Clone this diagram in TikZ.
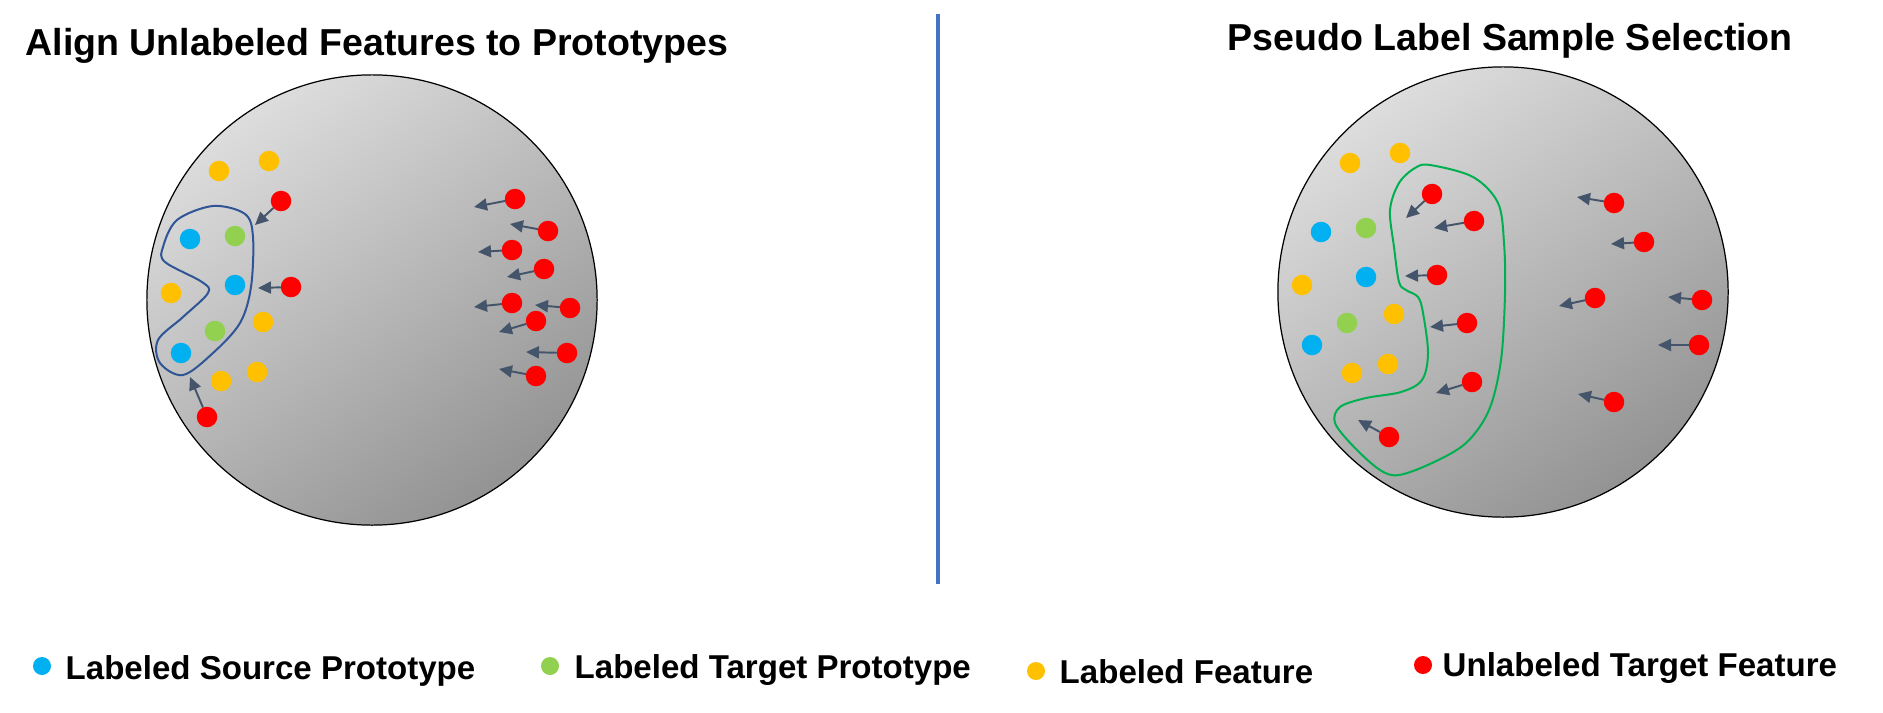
\documentclass[tikz,border=0pt]{standalone}
\usepackage{fontspec}
\setmainfont{Liberation Sans}
\usetikzlibrary{arrows.meta}
\definecolor{srcblue}{HTML}{00B0F0}
\definecolor{tgtgreen}{HTML}{92D050}
\definecolor{featyellow}{HTML}{FFC000}
\definecolor{unlred}{HTML}{FF0000}
\definecolor{pullgray}{HTML}{44546A}
\definecolor{alignblue}{HTML}{2F5597}
\definecolor{selgreen}{HTML}{00B050}
\definecolor{divblue}{HTML}{4472C4}
\definecolor{spacelight}{HTML}{DDDDDD}
\definecolor{spacedark}{HTML}{939393}
\tikzset{
    feat/.style={circle,fill,inner sep=0pt,outer sep=0pt,minimum size=0.205cm},
    legfeat/.style={feat,minimum size=0.18cm},
    featspace/.style={circle,draw=black,line width=0.35pt,inner sep=0pt,minimum size=4.5cm,
        top color=spacelight,bottom color=spacedark,shading angle=35},
    pull/.style={draw=pullgray,line width=0.55pt,-{Triangle[length=0.13cm,width=0.12cm]}},
    titletext/.style={anchor=base west,inner sep=0pt,font=\fontsize{10.67}{12}\selectfont\bfseries},
    legtext/.style={anchor=base west,inner sep=0pt,font=\fontsize{9.4}{11}\selectfont\bfseries}
}

\begin{document}
\begin{tikzpicture}[x=0.01cm,y=-0.01cm]
    \useasboundingbox (0,0) rectangle (1883,712);

    % titles and divider
    \node[titletext] (ltitle) at (25,55) {Align Unlabeled Features to Prototypes};
    \node[titletext] (rtitle) at (1227,50) {Pseudo Label Sample Selection};
    \coordinate (dtop) at (938,14);
    \coordinate (dbot) at (938,584);
    \draw[divblue,line width=1.14pt] (dtop) -- (dbot);

    % feature spaces
    \node[featspace] (lspace) at (372,300) {};
    \node[featspace] (rspace) at (1503,292) {};

    % left: align unlabeled features to prototypes
    \draw[alignblue,line width=0.57pt] plot[smooth cycle,tension=0.55] coordinates {
        (213,206) (245,214) (253,237) (251,287) (240,323) (213,353) (183,375) (160,363)
        (158,340) (183,317) (208,293) (202,282) (165,262) (163,247) (177,220)};
    \foreach \x/\y [count=\i] in {219/171,269/161,171/293,263/322,221/381,257/372}
        \node[feat,fill=featyellow] (ly\i) at (\x,\y) {};
    \foreach \x/\y [count=\i] in {190/239,235/285,181/353}
        \node[feat,fill=srcblue] (lb\i) at (\x,\y) {};
    \foreach \x/\y [count=\i] in {235/236,215/331}
        \node[feat,fill=tgtgreen] (lg\i) at (\x,\y) {};
    \foreach \x/\y/\tx/\ty [count=\i] in {281/201/255/225,291/287/258/288,207/417/190/377,
        515/199/474/207,548/231/510/224,512/250/478/252,544/269/507/277,512/303/474/307,
        570/308/535/305,536/321/499/332,567/353/526/352,536/376/499/369}
    {
        \node[feat,fill=unlred] (lr\i) at (\x,\y) {};
        \coordinate (lt\i) at (\tx,\ty);
        \draw[pull] (lr\i) -- (lt\i);
    }

    % right: pseudo label sample selection
    \draw[selgreen,line width=0.57pt] plot[smooth cycle,tension=0.55] coordinates {
        (1430,165) (1473,177) (1498,203) (1504,243) (1505,293) (1501,360) (1489,410)
        (1466,443) (1432,463) (1399,475) (1380,470) (1354,447) (1335,423) (1340,407)
        (1366,398) (1401,392) (1422,380) (1428,353) (1423,313) (1418,297) (1406,290)
        (1399,282) (1394,247) (1390,210) (1399,183) (1415,168)};
    \foreach \x/\y [count=\i] in {1350/163,1400/153,1302/285,1394/314,1352/373,1388/364}
        \node[feat,fill=featyellow] (ry\i) at (\x,\y) {};
    \foreach \x/\y [count=\i] in {1321/232,1366/277,1312/345}
        \node[feat,fill=srcblue] (rb\i) at (\x,\y) {};
    \foreach \x/\y [count=\i] in {1366/228,1347/323}
        \node[feat,fill=tgtgreen] (rg\i) at (\x,\y) {};
    \foreach \x/\y/\tx/\ty [count=\i] in {1432/194/1406/218,1474/221/1434/228,
        1437/275/1405/276,1467/323/1430/327,1472/382/1436/393,1389/437/1358/420,
        1614/203/1577/197,1644/242/1611/244,1595/298/1559/306,1702/300/1668/297,
        1699/345/1658/345,1614/402/1578/394}
    {
        \node[feat,fill=unlred] (rr\i) at (\x,\y) {};
        \coordinate (rt\i) at (\tx,\ty);
        \draw[pull] (rr\i) -- (rt\i);
    }

    % legend
    \node[legfeat,fill=srcblue] (keysrc) at (42,666) {};
    \node[legtext] (keysrctext) at (65,679) {Labeled Source Prototype};
    \node[legfeat,fill=tgtgreen] (keytgt) at (550,666) {};
    \node[legtext] (keytgttext) at (574,678) {Labeled Target Prototype};
    \node[legfeat,fill=featyellow] (keyfeat) at (1036,671) {};
    \node[legtext] (keyfeattext) at (1059,683) {Labeled Feature};
    \node[legfeat,fill=unlred] (keyunl) at (1423,665) {};
    \node[legtext] (keyunltext) at (1442,676) {Unlabeled Target Feature};
\end{tikzpicture}
\end{document}
